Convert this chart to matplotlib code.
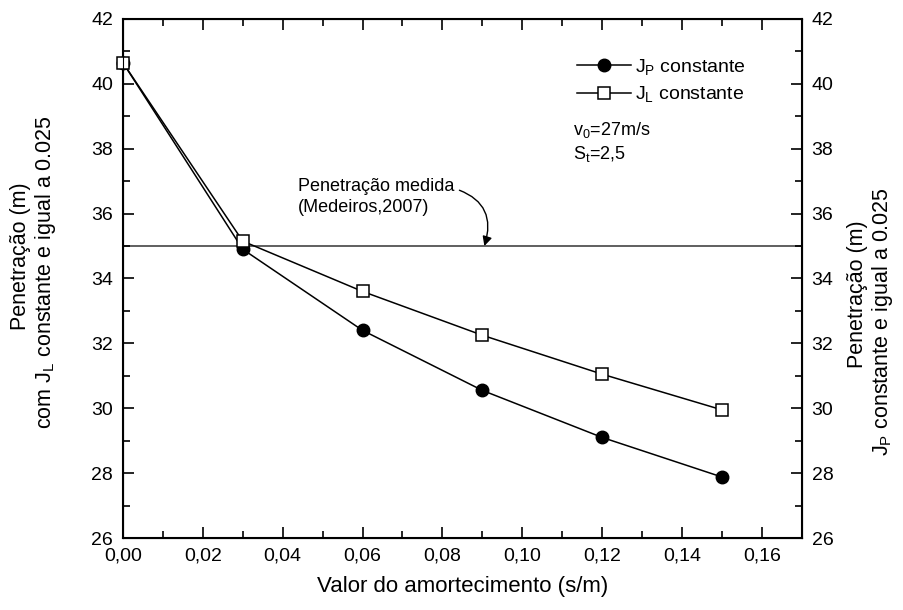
import matplotlib
matplotlib.use("Agg")
import matplotlib.pyplot as plt
from matplotlib.ticker import MultipleLocator, FuncFormatter

plt.rcParams['font.family'] = ['Liberation Sans', 'DejaVu Sans']
plt.rcParams['mathtext.fontset'] = 'custom'
plt.rcParams['mathtext.rm'] = 'Liberation Sans'
plt.rcParams['mathtext.it'] = 'Liberation Sans'
plt.rcParams['mathtext.default'] = 'regular'

damping = [0.00, 0.03, 0.06, 0.09, 0.12, 0.15]
jp_const = [40.65, 34.90, 32.40, 30.55, 29.10, 27.88]
jl_const = [40.65, 35.15, 33.60, 32.25, 31.05, 29.95]
measured = 35.0

W, H = 904, 610
fig = plt.figure(figsize=(W / 100, H / 100), dpi=100)
ax = fig.add_axes([0.136, 0.118, 0.751, 0.851])

ax.axhline(measured, color='#444444', lw=1.2, zorder=1)
ax.plot(damping, jp_const, '-', color='black', lw=1.1, marker='o', ms=9,
        mfc='black', mec='black', label='J$_P$ constante', zorder=3, clip_on=False)
ax.plot(damping, jl_const, '-', color='black', lw=1.1, marker='s', ms=8,
        mfc='white', mec='black', mew=1.1, label='J$_L$ constante', zorder=3, clip_on=False)

ax.set_xlim(0, 0.17)
ax.set_ylim(26, 42)
ax.xaxis.set_major_locator(MultipleLocator(0.02))
ax.xaxis.set_minor_locator(MultipleLocator(0.01))
ax.yaxis.set_major_locator(MultipleLocator(2))
ax.yaxis.set_minor_locator(MultipleLocator(1))
ax.xaxis.set_major_formatter(FuncFormatter(lambda v, p: f"{v:.2f}".replace('.', ',')))
ax.tick_params(which='both', direction='in', top=True, right=True, labelsize=14, width=1.2, pad=7)
ax.tick_params(which='major', length=8)
ax.tick_params(which='minor', length=5)
for s in ax.spines.values():
    s.set_linewidth(1.5)

ax2 = ax.twinx()
ax2.set_ylim(26, 42)
ax2.yaxis.set_major_locator(MultipleLocator(2))
ax2.yaxis.set_minor_locator(MultipleLocator(1))
ax2.tick_params(which='both', direction='in', labelsize=14, width=1.2, pad=7)
ax2.tick_params(which='major', length=8)
ax2.tick_params(which='minor', length=5)

ax.set_xlabel('Valor do amortecimento (s/m)', fontsize=16, labelpad=8)

label_kw = dict(rotation=90, fontsize=15.5, ha='center', va='center')
fig.text(21 / W, 1 - 256 / H, 'Penetração (m)', **label_kw)
fig.text(46 / W, 1 - 272 / H, 'com J$_L$ constante e igual a 0.025', **label_kw)
fig.text(858 / W, 1 - 294 / H, 'Penetração (m)', **label_kw)
fig.text(883 / W, 1 - 322 / H, 'J$_P$ constante e igual a 0.025', **label_kw)

leg = ax.legend(loc='upper left', bbox_to_anchor=(0.651, 0.95), frameon=False,
                fontsize=14, handlelength=2.8, handletextpad=0.2, borderaxespad=0.2,
                labelspacing=0.4)
ax.text(0.663, 0.805, 'v$_0$=27m/s\nS$_t$=2,5', transform=ax.transAxes,
        fontsize=13, va='top', ha='left', linespacing=1.25)

ax.annotate('Penetração medida\n(Medeiros,2007)', xy=(0.0905, 35.0),
            xytext=(0.04375, 36.52), textcoords='data', fontsize=13, ha='left', va='center',
            linespacing=1.3,
            arrowprops=dict(arrowstyle='-|>', color='black', lw=1.0,
                            connectionstyle='arc3,rad=-0.5', shrinkA=2, shrinkB=0,
                            mutation_scale=14, relpos=(1.0, 0.72)))

fig.savefig('out.png', dpi=100)
